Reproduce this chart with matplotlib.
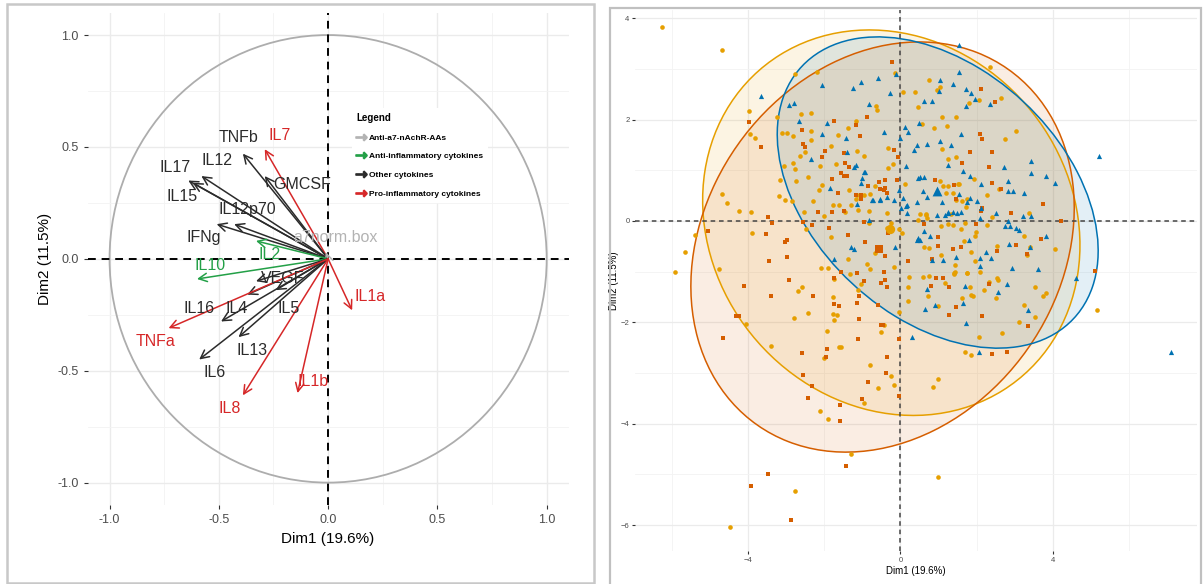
import numpy as np
import matplotlib
matplotlib.use("Agg")
import matplotlib.pyplot as plt
from matplotlib.patches import Circle, Ellipse, Rectangle
from matplotlib.lines import Line2D

plt.rcParams['font.family'] = ['Liberation Sans', 'DejaVu Sans']

# ---- left panel : variables (PCA correlation circle) ----
var_names = ["TNFb", "IL7", "GMCSF", "IL12", "IL17", "IL15", "IL12p70", "IFNg", "a7norm.box",
             "IL2", "IL10", "VEGF", "IL16", "IL4", "IL5", "IL13", "IL6", "TNFa", "IL8", "IL1b", "IL1a"]
var_dim1 = [-0.39, -0.29, -0.29, -0.58, -0.64, -0.62, -0.43, -0.51, -0.01,
            -0.33, -0.60, -0.33, -0.37, -0.49, -0.24, -0.41, -0.59, -0.73, -0.39, -0.14, 0.11]
var_dim2 = [0.47, 0.49, 0.37, 0.37, 0.35, 0.34, 0.155, 0.155, 0.03,
            0.08, -0.09, -0.10, -0.16, -0.28, -0.14, -0.35, -0.45, -0.31, -0.61, -0.60, -0.23]
var_group = ["Other", "Pro", "Other", "Other", "Other", "Other", "Other", "Other", "AAs",
             "Anti", "Anti", "Other", "Other", "Other", "Other", "Other", "Other", "Pro", "Pro", "Pro", "Pro"]
# label positions as they sit in the picture (repelled)
lab_x = [-0.41, -0.22, -0.12, -0.51, -0.70, -0.67, -0.37, -0.57, 0.035,
         -0.27, -0.54, -0.21, -0.59, -0.42, -0.18, -0.35, -0.52, -0.79, -0.45, -0.07, 0.19]
lab_y = [0.54, 0.55, 0.33, 0.44, 0.41, 0.28, 0.22, 0.095, 0.095,
         0.02, -0.03, -0.09, -0.22, -0.22, -0.22, -0.41, -0.51, -0.37, -0.67, -0.55, -0.17]

group_names = ["Anti-a7-nAchR-AAs", "Anti-inflammatory cytokines", "Other cytokines", "Pro-inflammatory cytokines"]
group_keys = ["AAs", "Anti", "Other", "Pro"]
group_cols = {"AAs": "#b3b3b3", "Anti": "#23a047", "Other": "#2b2b2b", "Pro": "#d62728"}

# ---- right panel : individuals ----
blue_x = [-3.67, -2.94, -2.79, -2.07, -1.26, -1.04, -0.60, -0.12, -0.27, -0.82, -2.66, -1.93, -2.06, -1.42,
          -0.43, 0.11, -0.01, 0.21, -2.36, -1.41, -1.18, -1.21, -0.95, -1.04, -1.84, -0.76, -0.55, -0.35,
          -0.18, -1.15, 0.15, -0.05, 0.07, 0.17, 0.02, 0.17, -0.82, -1.31, -1.23, -1.75, -0.14, 0.36, 0.43,
          0.48, 0.47, 0.46,
          1.54, 1.55, 1.37, 1.04, 1.02, 1.72, 1.86, 1.96, 1.72, 2.36, 0.62, 0.83, 1.59, 0.69, 1.33, 1.03,
          1.25, 1.64, 1.82, 2.72, 3.43, 3.43, 3.82, 4.06, 2.11, 2.84, 2.84, 2.95, 3.26, 1.53, 1.82, 2.02,
          1.08, 0.71, 0.59, 1.25, 1.38, 1.60, 2.12, 2.51, 1.18, 0.97, 2.08, 2.82, 3.22, 3.42, 2.76, 2.87,
          3.04, 3.11, 3.83, 0.78, 0.61, 1.79, 2.86, 3.41, 2.25, 2.08, 2.37, 1.13, 0.83, 1.46, 2.10, 2.93,
          3.61, 4.61, 5.21,
          7.12, 0.65, 0.90, 0.69, 1.64, 1.70, 2.56, 2.81, 1.72, 2.06, 3.36, 0.30,
          0.52, 0.61, 0.43, 0.14, -0.53, -0.71, -1.02, -0.93, 0.43, 0.52, 1.26, 1.48, 1.76]
blue_y = [2.47, 2.29, 2.33, 2.68, 2.63, 2.74, 2.82, 2.90, 2.53, 2.31, 1.97, 1.93, 1.71, 1.63,
          1.75, 1.85, 1.63, 1.76, 1.22, 1.36, 1.11, 1.06, 0.96, 0.74, 0.64, 0.41, 0.43, 0.48,
          0.41, 0.34, 1.09, 0.61, 0.45, 0.32, 0.25, 0.15, 0.02, -0.51, -0.55, -0.75, -0.51, 1.40, 1.50,
          1.93, 0.84, -0.34,
          3.47, 2.93, 2.70, 2.77, 2.57, 2.61, 2.52, 2.41, 2.27, 2.31, 2.36, 2.36, 1.72, 1.51, 1.50, 1.58,
          1.11, 0.99, 0.89, 1.07, 1.19, 0.94, 0.88, 0.74, 0.73, 0.78, 0.59, 0.59, 0.55, 0.53, 0.45, 0.39,
          0.37, 0.47, 0.59, 0.17, 0.17, 0.17, 0.25, 0.15, 0.11, 0.12, 0.05, 0.00, 0.09, 0.09, -0.11, -0.11,
          -0.14, -0.18, -0.29, -0.29, -0.19, -0.38, -0.45, -0.51, -0.62, -0.74, -0.74, -0.78, -0.78, -0.72, -0.88, -0.93,
          -0.95, -1.12, 1.29,
          -2.58, -1.74, -1.65, -1.34, -1.61, -1.28, -1.41, -1.24, -2.02, -2.58, -1.76, -2.29,
          0.87, 0.87, 0.38, 0.30, 0.41, 0.42, 0.84, 0.97, -0.37, -0.37, 0.15, 0.15, 0.38]

yel_x = [-6.28, -4.68, -2.77, -2.20, -0.14, 0.08, 0.37, 0.46, -0.64, -0.61, -3.97, -3.24, -2.61, -2.36,
         -3.12, -2.98, -2.82, -3.96, -3.82, -2.35, -2.35, -1.64, -1.39, -1.17, -1.83, -2.63, -2.52, -2.11,
         -2.13, -1.69, -1.13, -0.95, -3.05, -2.82, -2.76, -2.75, -3.17, -2.43, -2.07, -4.70, -4.55, -4.25,
         -3.93, -3.18, -3.03, -2.86, -2.53, -2.29, -2.00, -1.78, -1.61, -1.29, -1.18, -1.11, -0.82, -1.47,
         -2.49, -3.90, -5.39, -5.66, -5.93, -4.78, -2.10, -1.90, -1.83, -1.37, -0.67, -0.36, -0.25, -0.05,
         0.04, -0.18, -0.87, -0.80, 0.11, -0.33, -0.32, -0.20, -0.97, -0.80, -0.67, -1.34, -1.15, -0.82,
         2.36, 0.76, 0.97, 1.04, 2.07, 1.79, 2.64, 1.10, 1.47, 0.87, 1.22, 0.56, 3.04, 2.76, 1.09, 1.26,
         1.47, 1.94, 1.04, 1.11, 1.25, 1.51, 1.55, 1.37, 1.20, 2.27, 2.60, 1.47, 1.63, 1.76, 1.73, 0.68,
         0.71, 1.33, 1.70, 2.40, 3.37, 1.06, 1.25, 1.39, 1.60, 2.27, 1.66, 1.97, 1.99, 3.26, 0.61, 0.74,
         1.85, 3.40, 4.07, 2.55, 3.34, 1.07, 1.44, 1.97, 1.40, 1.76, 2.55,
         0.59, 0.74, 1.40, 1.44, 1.75, 2.10, 2.32, 2.56, 1.18, 1.82, 1.85, 1.92, 2.19, 2.51, 1.62, 0.73,
         1.00, 3.54, 3.75, 3.83, 3.24, 3.53, 3.13, 2.68, 2.06, 1.70, 1.85, 0.98, 0.85, 5.18, 0.99,
         -2.60, -2.68, -1.74, -1.78, -2.43, -2.79, -1.76, -1.68, -1.74, -4.05, -1.93, -1.61, -1.56, -3.40,
         -2.00, -0.80, -0.25, -0.60, -0.17, -0.96, -2.11, -1.91, -1.31, -2.77, -4.49, -0.50, -0.44, -1.03,
         -1.12, 0.23, 0.21, 0.20, -0.04, -1.32,
         0.52, 0.67, 0.46, -0.34]
yel_y = [3.82, 3.38, 2.90, 2.94, 2.91, 2.55, 2.55, 2.24, 2.26, 2.19, 2.16, 2.05, 2.11, 2.12,
         1.74, 1.73, 1.68, 1.71, 1.64, 1.78, 1.60, 1.69, 1.84, 1.97, 1.47, 1.29, 1.35, 1.09,
         0.61, 1.13, 1.37, 1.29, 1.09, 1.14, 1.03, 0.79, 0.81, 0.86, 0.70, 0.53, 0.35, 0.19,
         0.18, 0.49, 0.41, 0.40, 0.17, 0.39, 0.09, 0.32, 0.31, 0.32, 0.43, 0.22, 0.19, 0.18,
         -0.16, -0.24, -0.28, -0.61, -1.01, -0.94, -0.93, -0.93, -0.32, -0.76, -0.63, -0.14, -0.05, -0.15,
         -0.23, -0.90, -0.84, -0.95, 0.73, 1.43, 1.05, 1.12, 0.51, 0.53, 0.69, 0.61, 0.51, -0.05,
         3.03, 2.77, 2.59, 2.64, 2.38, 2.32, 2.43, 2.05, 2.05, 1.84, 1.88, 1.91, 1.78, 1.61, 1.41, 1.22,
         1.26, 0.82, 0.79, 0.69, 0.69, 0.72, 0.72, 0.56, 0.56, 0.51, 0.63, 0.41, 0.39, 0.43, 0.28, 0.12,
         0.05, 0.14, -0.05, 0.07, 0.15, -0.11, -0.07, -0.09, -0.16, -0.08, -0.39, -0.30, -0.22, -0.29, -0.52, -0.53,
         -0.61, -0.51, -0.56, -0.49, -0.67, -0.68, -0.87, -0.80, -1.03, -1.03, -1.13,
         -1.11, -1.08, -1.05, -1.00, -1.03, -1.00, -1.20, -1.16, -1.23, -1.31, -1.46, -1.49, -1.37, -1.53, -1.53, -1.48,
         -1.68, -1.31, -1.48, -1.43, -1.66, -1.90, -2.00, -2.22, -2.28, -2.58, -2.64, -3.12, -3.28, -1.76, -5.06,
         -1.31, -1.38, -1.14, -1.51, -1.82, -1.92, -1.84, -1.85, -1.95, -2.04, -2.17, -2.49, -2.49, -2.47,
         -2.71, -2.85, -3.05, -3.29, -3.24, -3.60, -3.75, -3.91, -4.60, -5.33, -6.04, -2.20, -2.05, -1.24,
         -1.37, -1.11, -1.31, -1.58, -1.79, -1.05,
         0.13, 0.13, 0.02, 0.15]

org_x = [-0.23, -3.97, -3.66, -2.60, -1.74, -1.17, -0.89, -1.06, -2.55, -2.52, -2.06, -1.98, -1.49, -1.47,
         -1.55, -1.48, -1.41, -1.34, -1.80, -1.64, -1.17, -1.04, -0.84, -0.57, -0.42, -0.35, -0.40, -0.06,
         -0.16, -0.10, -1.03, -1.48, -1.80, -2.16, -3.47, -3.38, -2.56, -2.32, -1.89, -1.39, -0.93, -0.96,
         -5.07, -3.54, -3.04, -2.98, -2.97, -3.46, -0.32, -0.40, 0.21, -0.42, -1.57, -1.74, -0.53, -0.40,
         2.12, 2.48, 2.08, 2.15, 1.82, 2.41, 1.62, 2.34, 0.92, 1.42, 2.40, 2.65, 3.74, 1.46, 2.15, 2.12,
         2.92, 4.22, 0.61, 1.99, 0.98, 3.70, 3.04, 1.38, 0.98, 1.59, 2.54, 3.33, 0.84, 5.11, 0.94, 1.12,
         0.81, 1.29, 2.33, 1.46, 1.29, 2.15, 3.36, 2.41, 2.80,
         -4.11, -2.93, -3.39, -2.31, -1.55, -1.13, -0.96, -0.52, -0.40, -0.35, -1.09, -1.13, -1.75, -1.62,
         -0.60, -1.10, -4.33, -4.25, -4.66, -0.51, -0.45, -1.12, -0.05, -2.59, -1.92, -1.95, -0.35, -0.39,
         -0.85, -2.55, -2.32, -2.44, -0.04, -1.01, -1.59, -1.60, -1.43, -3.47, -3.94, -2.87]
org_y = [3.13, 1.96, 1.45, 1.80, 1.97, 1.89, 2.04, 1.68, 1.51, 1.45, 1.27, 1.38, 1.34, 1.15,
         0.95, 0.89, 0.89, 1.07, 0.83, 0.56, 0.51, 0.51, 0.68, 0.76, 0.61, 0.55, 0.81, 1.27,
         1.40, 0.81, 0.43, 0.19, 0.18, 0.17, 0.07, -0.05, -0.03, -0.08, -0.13, -0.28, -0.42, -0.02,
         -0.20, -0.26, -0.41, -0.38, -0.72, -0.80, -0.23, -0.69, -0.79, -1.01, -1.00, -1.13, 0.63, 0.64,
         2.61, 2.34, 1.71, 1.61, 1.35, 1.35, 1.14, 1.07, 0.81, 0.70, 0.74, 0.63, 0.34, 0.43, 0.26, 0.20,
         0.15, 0.00, -0.07, -0.07, -0.31, -0.36, -0.47, -0.55, -0.49, -0.51, -0.59, -0.66, -0.75, -0.98, -1.13, -1.13,
         -1.28, -1.31, -1.24, -1.69, -1.85, -1.87, -2.07, -2.63, -2.58,
         -1.28, -1.16, -1.48, -1.49, -1.00, -1.02, -1.18, -1.22, -1.16, -1.30, -1.48, -1.61, -1.64, -1.67,
         -1.66, -1.94, -1.87, -1.87, -2.30, -2.05, -2.05, -2.33, -2.32, -2.60, -2.53, -2.69, -2.69, -3.00,
         -3.17, -3.04, -3.25, -3.49, -3.45, -3.52, -3.64, -3.95, -4.83, -4.99, -5.23, -5.90]

# concentration ellipses: centre and covariance (already scaled to the 95% level)
ell_cx = [-0.24, -0.47, 0.98]
ell_cy = [-0.035, -0.515, 0.56]
ell_sxx = [24.6, 25.4, 17.8]
ell_syy = [14.45, 16.36, 9.42]
ell_sxy = [-2.2, 3.9, -4.85]
ell_cols = ["#E69F00", "#D55E00", "#0072B2"]

fig = plt.figure(figsize=(12.03, 5.84), dpi=100)

# panel frames
fig.add_artist(Rectangle((0.0058, 0.0017), 0.488, 0.9915, transform=fig.transFigure,
                         fill=False, ec="#c8c8c8", lw=1.8))
fig.add_artist(Rectangle((0.507, -0.02), 0.4913, 1.0063, transform=fig.transFigure,
                         fill=False, ec="#c0c0c0", lw=1.6))

# ===== left panel =====
ax1 = fig.add_axes([0.0729, 0.1353, 0.3997, 0.843])
ax1.set_xlim(-1.1, 1.1)
ax1.set_ylim(-1.1, 1.1)
ax1.set_xticks([-1.0, -0.5, 0.0, 0.5, 1.0])
ax1.set_yticks([-1.0, -0.5, 0.0, 0.5, 1.0])
ax1.set_xticks([-0.75, -0.25, 0.25, 0.75], minor=True)
ax1.set_yticks([-0.75, -0.25, 0.25, 0.75], minor=True)
ax1.grid(True, which="major", color="#ebebeb", lw=1.0)
ax1.grid(True, which="minor", color="#f3f3f3", lw=0.6)
ax1.set_axisbelow(True)
for s in ax1.spines.values():
    s.set_visible(False)
ax1.tick_params(which="major", length=3, color="#333333", labelsize=9, labelcolor="#4d4d4d")
ax1.tick_params(which="minor", length=0)
ax1.xaxis.set_major_formatter(matplotlib.ticker.FormatStrFormatter("%.1f"))
ax1.yaxis.set_major_formatter(matplotlib.ticker.FormatStrFormatter("%.1f"))
ax1.set_xlabel("Dim1 (19.6%)", fontsize=11, labelpad=4)
ax1.set_ylabel("Dim2 (11.5%)", fontsize=11, labelpad=4)

ax1.add_patch(Circle((0, 0), 1.0, fill=False, ec="#adadad", lw=1.3, zorder=1))
ax1.axhline(0, color="black", ls=(0, (4, 3)), lw=1.4, zorder=2)
ax1.axvline(0, color="black", ls=(0, (4, 3)), lw=1.4, zorder=2)

for i in range(len(var_names)):
    c = group_cols[var_group[i]]
    ax1.annotate("", xy=(var_dim1[i], var_dim2[i]), xytext=(0, 0),
                 arrowprops=dict(arrowstyle="->,head_length=0.6,head_width=0.3", color=c,
                                 lw=1.1, shrinkA=0, shrinkB=0), zorder=3)
    ax1.text(lab_x[i], lab_y[i], var_names[i], color=c, fontsize=11.5,
             ha="center", va="center", zorder=4)

handles = [Line2D([], [], color=group_cols[k], marker=r"$\rightarrow$", ls="None", markersize=8)
           for k in group_keys]
leg = ax1.legend(handles, group_names, title="Legend", loc="upper left", bbox_to_anchor=(0.54, 0.815),
                 frameon=True, facecolor="white", edgecolor="none", framealpha=1,
                 prop=dict(size=6, weight="bold"), title_fontproperties=dict(size=7, weight="bold"),
                 labelspacing=1.3, handlelength=1.0, handletextpad=0.5, borderpad=0.6)
leg._legend_box.align = "left"
leg.set_zorder(5)

# ===== right panel =====
ax2 = fig.add_axes([0.5278, 0.0565, 0.4673, 0.9264])
ax2.set_xlim(-6.98, 7.8)
ax2.set_ylim(-6.51, 4.16)
ax2.set_xticks([-4, 0, 4])
ax2.set_yticks([-6, -4, -2, 0, 2, 4])
ax2.set_xticks([-6, -2, 2, 6], minor=True)
ax2.set_yticks([-5, -3, -1, 1, 3], minor=True)
ax2.grid(True, which="major", color="#ebebeb", lw=0.9)
ax2.grid(True, which="minor", color="#f3f3f3", lw=0.6)
ax2.set_axisbelow(True)
for s in ax2.spines.values():
    s.set_visible(False)
ax2.tick_params(which="major", length=2, color="#333333", labelsize=5.5, labelcolor="#4d4d4d", pad=2)
ax2.tick_params(which="minor", length=0)
ax2.set_xlabel("Dim1 (19.6%)", fontsize=7, labelpad=2)
ax2.set_ylabel("Dim2 (11.5%)", fontsize=7, labelpad=1)

for cx, cy, sxx, syy, sxy, col in zip(ell_cx, ell_cy, ell_sxx, ell_syy, ell_sxy, ell_cols):
    vals, vecs = np.linalg.eigh(np.array([[sxx, sxy], [sxy, syy]]))
    ang = np.degrees(np.arctan2(vecs[1, 1], vecs[0, 1]))
    w, h = 2 * np.sqrt(vals[1]), 2 * np.sqrt(vals[0])
    ax2.add_patch(Ellipse((cx, cy), w, h, angle=ang, fc=col, alpha=0.11, ec="none", zorder=1))
    ax2.add_patch(Ellipse((cx, cy), w, h, angle=ang, fill=False, ec=col, lw=1.1, zorder=2))

ax2.axhline(0, color="#444444", ls=(0, (3, 2.5)), lw=1.1, zorder=2.5)
ax2.axvline(0, color="#444444", ls=(0, (3, 2.5)), lw=1.1, zorder=2.5)

ax2.scatter(yel_x, yel_y, marker="o", s=11, color="#E69F00", lw=0, zorder=3)
ax2.scatter(org_x, org_y, marker="s", s=11, color="#D55E00", lw=0, zorder=3)
ax2.scatter(blue_x, blue_y, marker="^", s=14, color="#0072B2", lw=0, zorder=3)
# group means
ax2.scatter([np.mean(yel_x)], [np.mean(yel_y)], marker="o", s=45, color="#E69F00", lw=0, zorder=4)
ax2.scatter([np.mean(org_x)], [np.mean(org_y)], marker="s", s=40, color="#D55E00", lw=0, zorder=4)
ax2.scatter([np.mean(blue_x)], [np.mean(blue_y)], marker="^", s=50, color="#0072B2", lw=0, zorder=4)

fig.savefig("out.png", dpi=100)
